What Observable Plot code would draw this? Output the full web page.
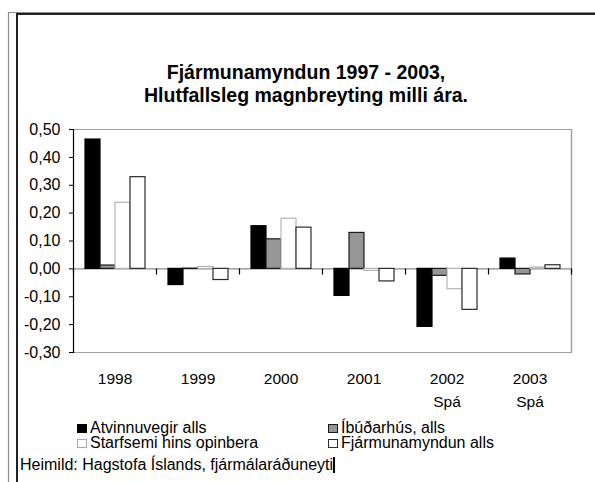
<!DOCTYPE html>
<html>
<head>
<meta charset="utf-8">
<script src="https://cdn.jsdelivr.net/npm/d3@7"></script>
<script src="https://cdn.jsdelivr.net/npm/@observablehq/plot@0.6"></script>
<style>
  html, body { margin: 0; padding: 0; background: #fff; }
  #wrap { position: relative; width: 595px; height: 482px; overflow: hidden; font-family: "Liberation Sans", Arial, Helvetica, sans-serif; color: #000; }
  #chart { position: absolute; left: 0; top: 0; z-index: 1; }
  .abs { position: absolute; z-index: 2; }
  #title { left: 0; width: 612px; top: 61px; text-align: center; font-weight: bold; font-size: 19.5px; line-height: 23.4px; }
  #legend { left: 77px; top: 419.6px; display: grid; grid-template-columns: 251px auto; font-size: 16px; line-height: 15.6px; white-space: nowrap; }
  .sw { display: inline-block; width: 10px; height: 9px; box-sizing: border-box; border: 1px solid #000; margin-right: 3px; vertical-align: baseline; }
  #caption { left: 20px; top: 456px; font-size: 16px; line-height: 18px; white-space: nowrap; }
  .cursor { display: inline-block; width: 2px; height: 16px; background: #000; vertical-align: -3px; }
  #deco { position: absolute; left: 0; top: 0; z-index: 10; pointer-events: none; }
</style>
</head>
<body>
<div id="wrap">
  <div id="chart"></div>
  <div id="title" class="abs"></div>
  <div id="legend" class="abs"></div>
  <div id="caption" class="abs"></div>
  <svg id="deco" width="595" height="482" xmlns="http://www.w3.org/2000/svg">
    <path d="M8.5,482 V12.5 H595" fill="none" stroke="#8c8c8c" stroke-width="1.2"/>
    <path d="M17,482 V14 H595" fill="none" stroke="#222" stroke-width="2"/>
  </svg>
</div>
<script>
// ---- data ----
const titleLines = ["Fjármunamyndun 1997 - 2003,", "Hlutfallsleg magnbreyting milli ára."];
const years = ["1998", "1999", "2000", "2001", "2002", "2003"];
const yearLabels = ["1998", "1999", "2000", "2001", "2002\nSpá", "2003\nSpá"];
const series = ["Atvinnuvegir alls", "Íbúðarhús, alls", "Starfsemi hins opinbera", "Fjármunamyndun alls"];
const atvinnuvegir = [0.464, -0.058, 0.153, -0.097, -0.208, 0.037];
const ibudarhus    = [0.012,  0.001, 0.106,  0.129, -0.025, -0.020];
const starfsemi    = [0.237,  0.007, 0.180, -0.007, -0.073,  0.005];
const fjarmunamyndun = [0.329, -0.040, 0.148, -0.045, -0.147, 0.013];
const yTicks = [-0.3, -0.2, -0.1, 0, 0.1, 0.2, 0.3, 0.4, 0.5];
const caption = "Heimild: Hagstofa Íslands, fjármálaráðuneyti";

// ---- styles ----
const fills = ["#000000", "#969696", "#ffffff", "#ffffff"];
const strokes = ["#000000", "#1a1a1a", "#b4b4b4", "#2a2a2a"];
const legendOrder = [0, 1, 2, 3];

const valuesBySeries = [atvinnuvegir, ibudarhus, starfsemi, fjarmunamyndun];
const data = years.flatMap((yr, i) => series.map((s, j) => ({year: yr, series: s, value: valuesBySeries[j][i]})));
const fillOf = Object.fromEntries(series.map((s, j) => [s, fills[j]]));
const strokeOf = Object.fromEntries(series.map((s, j) => [s, strokes[j]]));
const fmt = d => d.toFixed(2).replace(".", ",");

const chart = Plot.plot({
  width: 595,
  height: 415,
  marginTop: 129,
  marginBottom: 63,
  marginLeft: 72,
  marginRight: 24,
  style: {background: "transparent", fontFamily: "'Liberation Sans', Arial, sans-serif", overflow: "visible", color: "#000"},
  fx: {domain: years, padding: 0, label: null},
  x: {domain: series, paddingInner: 0, paddingOuter: 0.75, axis: null},
  y: {domain: [-0.3, 0.5], label: null},
  color: {type: "identity"},
  marks: [
    Plot.ruleY([0.5, -0.3], {stroke: "#a0a0a0", strokeWidth: 1.2}),
    Plot.frame({anchor: "right", facetAnchor: "right", stroke: "#a0a0a0", strokeWidth: 1.4}),
    Plot.ruleY([0], {stroke: "#8a8a8a", strokeWidth: 1.2}),
    Plot.barY(data, {fx: "year", x: "series", y: "value", fill: d => fillOf[d.series], stroke: d => strokeOf[d.series], strokeWidth: 1.2}),
    Plot.vector([0], {y: d => d, frameAnchor: "left", anchor: "start", rotate: 180, length: 5, r: 0, stroke: "#000", strokeWidth: 1.2}),
    Plot.vector([0], {y: d => d, frameAnchor: "right", facetAnchor: "right", anchor: "start", rotate: 180, length: 5, r: 0, stroke: "#000", strokeWidth: 1.2}),
    Plot.frame({anchor: "left", facetAnchor: "left", stroke: "#000", strokeWidth: 1.2}),
    Plot.axisY({ticks: yTicks, tickFormat: fmt, tickSize: 4, tickPadding: 9, fontSize: 16, label: null}),
    Plot.axisFx({anchor: "bottom", tickSize: 0, tickPadding: 15, tickFormat: d => yearLabels[years.indexOf(d)], fontSize: 15.5, lineHeight: 1.48, label: null})
  ]
});
document.getElementById("chart").appendChild(chart);

// title
document.getElementById("title").innerHTML = titleLines.map(t => `<div>${t}</div>`).join("");

// legend
const legend = document.getElementById("legend");
legendOrder.forEach(j => {
  const item = document.createElement("div");
  const sw = document.createElement("span");
  sw.className = "sw";
  sw.style.background = fills[j];
  sw.style.borderColor = j === 2 ? "#a8a8a8" : strokes[j];
  item.appendChild(sw);
  item.appendChild(document.createTextNode(series[j]));
  legend.appendChild(item);
});

// caption
const cap = document.getElementById("caption");
cap.appendChild(document.createTextNode(caption));
const cur = document.createElement("span");
cur.className = "cursor";
cap.appendChild(cur);
</script>
</body>
</html>
